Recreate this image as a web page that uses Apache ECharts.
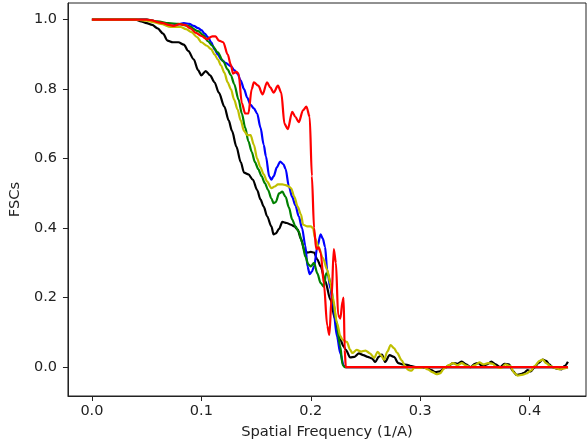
<!DOCTYPE html>
<html>
<head>
<meta charset="utf-8">
<script src="https://cdn.jsdelivr.net/npm/echarts@6/dist/echarts.min.js"></script>
<style>
  html, body { margin: 0; padding: 0; background: #fff; }
  #main { width: 587px; height: 446px; }
</style>
</head>
<body>
<div id="main"></div>
<script>
// tick positions
var xTicks = [0, 0.1, 0.2, 0.3, 0.4];
var yTicks = [0, 0.2, 0.4, 0.6, 0.8, 1.0];

// FSC curves, [spatial frequency, fsc]
var blackFsc = [[0,1],[0.04,1],[0.045,0.995],[0.05,0.99],[0.055,0.985],[0.06,0.975],[0.065,0.96],[0.069,0.94],[0.074,0.935],[0.079,0.935],[0.084,0.928],[0.088,0.91],[0.093,0.886],[0.097,0.855],[0.1,0.84],[0.104,0.852],[0.108,0.84],[0.112,0.82],[0.116,0.79],[0.121,0.75],[0.125,0.71],[0.128,0.68],[0.132,0.635],[0.136,0.59],[0.139,0.56],[0.143,0.555],[0.147,0.54],[0.151,0.51],[0.154,0.483],[0.157,0.462],[0.16,0.435],[0.164,0.405],[0.166,0.382],[0.168,0.385],[0.171,0.398],[0.174,0.418],[0.178,0.415],[0.182,0.41],[0.185,0.405],[0.188,0.396],[0.191,0.37],[0.194,0.338],[0.197,0.33],[0.2,0.332],[0.203,0.33],[0.206,0.31],[0.209,0.29],[0.213,0.25],[0.218,0.194],[0.222,0.14],[0.227,0.079],[0.23,0.06],[0.232,0.05],[0.236,0.028],[0.24,0.03],[0.244,0.04],[0.248,0.035],[0.252,0.03],[0.256,0.025],[0.259,0.015],[0.262,0.03],[0.265,0.036],[0.268,0.015],[0.272,0.035],[0.276,0.03],[0.28,0.012],[0.284,0.008],[0.288,0.007],[0.292,0.003],[0.297,0],[0.302,0],[0.306,-0.002],[0.31,-0.008],[0.314,-0.014],[0.318,-0.012],[0.322,-0.003],[0.326,0.005],[0.33,0.012],[0.334,0.01],[0.338,0.016],[0.342,0.008],[0.346,0],[0.35,0.01],[0.353,0.012],[0.357,0.003],[0.361,0.008],[0.365,0.016],[0.369,0.008],[0.373,0],[0.377,0.01],[0.381,0.008],[0.385,-0.012],[0.388,-0.022],[0.392,-0.02],[0.395,-0.016],[0.398,-0.008],[0.401,-0.012],[0.404,-0.002],[0.408,0.012],[0.412,0.022],[0.415,0.018],[0.418,0.008],[0.421,0],[0.425,-0.004],[0.429,-0.006],[0.432,0.004],[0.435,0.016]];

var blueFsc = [[0,1],[0.05,1],[0.055,0.997],[0.06,0.993],[0.065,0.988],[0.072,0.982],[0.078,0.986],[0.084,0.99],[0.089,0.988],[0.093,0.982],[0.097,0.976],[0.1,0.97],[0.103,0.96],[0.106,0.95],[0.109,0.935],[0.112,0.915],[0.115,0.9],[0.118,0.886],[0.122,0.876],[0.127,0.866],[0.13,0.855],[0.133,0.845],[0.136,0.825],[0.139,0.8],[0.142,0.775],[0.145,0.755],[0.148,0.745],[0.151,0.73],[0.154,0.69],[0.157,0.64],[0.159,0.607],[0.162,0.549],[0.164,0.54],[0.166,0.549],[0.169,0.575],[0.172,0.592],[0.175,0.584],[0.177,0.57],[0.18,0.52],[0.183,0.49],[0.186,0.465],[0.189,0.434],[0.192,0.4],[0.195,0.35],[0.197,0.29],[0.199,0.268],[0.201,0.275],[0.203,0.29],[0.206,0.347],[0.209,0.382],[0.211,0.37],[0.213,0.347],[0.215,0.28],[0.218,0.225],[0.22,0.185],[0.224,0.088],[0.227,0.04],[0.23,0.005],[0.232,0],[0.435,0]];

var greenFsc = [[0,1],[0.05,1],[0.06,0.995],[0.07,0.99],[0.079,0.988],[0.088,0.982],[0.097,0.967],[0.102,0.955],[0.106,0.938],[0.11,0.925],[0.115,0.906],[0.12,0.88],[0.124,0.857],[0.127,0.84],[0.13,0.815],[0.134,0.77],[0.137,0.73],[0.14,0.69],[0.143,0.65],[0.146,0.62],[0.149,0.59],[0.152,0.57],[0.155,0.55],[0.158,0.53],[0.161,0.51],[0.164,0.485],[0.166,0.472],[0.168,0.475],[0.171,0.5],[0.174,0.505],[0.177,0.49],[0.18,0.46],[0.183,0.425],[0.186,0.405],[0.189,0.39],[0.192,0.36],[0.195,0.318],[0.198,0.295],[0.2,0.29],[0.203,0.3],[0.206,0.27],[0.209,0.242],[0.212,0.232],[0.214,0.27],[0.216,0.265],[0.218,0.242],[0.221,0.18],[0.223,0.137],[0.227,0.059],[0.229,0.007],[0.231,0],[0.435,0]];

var yellowFsc = [[0,1],[0.04,1],[0.05,0.997],[0.056,0.993],[0.063,0.988],[0.072,0.979],[0.081,0.979],[0.086,0.973],[0.091,0.964],[0.096,0.95],[0.1,0.935],[0.105,0.925],[0.109,0.915],[0.112,0.9],[0.115,0.886],[0.118,0.868],[0.121,0.848],[0.124,0.82],[0.127,0.8],[0.13,0.77],[0.133,0.742],[0.136,0.71],[0.139,0.68],[0.142,0.668],[0.145,0.668],[0.148,0.64],[0.151,0.6],[0.154,0.575],[0.157,0.555],[0.16,0.535],[0.164,0.515],[0.167,0.52],[0.17,0.526],[0.174,0.526],[0.177,0.524],[0.18,0.52],[0.182,0.515],[0.185,0.49],[0.188,0.462],[0.191,0.44],[0.193,0.41],[0.197,0.405],[0.2,0.405],[0.202,0.4],[0.204,0.37],[0.207,0.347],[0.211,0.315],[0.215,0.28],[0.218,0.24],[0.22,0.203],[0.224,0.127],[0.227,0.09],[0.229,0.079],[0.233,0.073],[0.236,0.05],[0.238,0.041],[0.242,0.05],[0.246,0.045],[0.25,0.048],[0.254,0.04],[0.258,0.027],[0.261,0.044],[0.264,0.035],[0.267,0.021],[0.27,0.045],[0.273,0.064],[0.276,0.055],[0.279,0.041],[0.283,0.02],[0.286,0.005],[0.289,-0.008],[0.292,-0.01],[0.295,0],[0.299,-0.002],[0.303,0],[0.307,-0.006],[0.311,-0.014],[0.315,-0.02],[0.318,-0.018],[0.322,-0.003],[0.326,0.006],[0.33,0.012],[0.334,0.006],[0.338,0.012],[0.342,0.005],[0.346,0],[0.35,0.006],[0.354,0.014],[0.358,0.008],[0.362,0.012],[0.366,0.01],[0.37,0],[0.374,-0.002],[0.378,0.008],[0.382,0.004],[0.386,-0.016],[0.389,-0.024],[0.393,-0.022],[0.397,-0.018],[0.401,-0.01],[0.405,0.005],[0.409,0.018],[0.412,0.022],[0.415,0.012],[0.419,0.003],[0.423,-0.002],[0.427,-0.006],[0.431,-0.004],[0.435,0]];

var redFsc = [[0,1],[0.05,1],[0.055,0.998],[0.06,0.993],[0.065,0.99],[0.07,0.985],[0.075,0.982],[0.08,0.987],[0.085,0.985],[0.09,0.975],[0.095,0.962],[0.1,0.953],[0.105,0.944],[0.11,0.952],[0.113,0.952],[0.116,0.94],[0.12,0.935],[0.124,0.9],[0.127,0.87],[0.129,0.845],[0.132,0.85],[0.134,0.845],[0.137,0.76],[0.14,0.73],[0.143,0.73],[0.146,0.8],[0.148,0.82],[0.152,0.81],[0.156,0.785],[0.16,0.82],[0.163,0.805],[0.166,0.79],[0.17,0.81],[0.173,0.79],[0.176,0.7],[0.179,0.685],[0.183,0.735],[0.186,0.72],[0.189,0.705],[0.193,0.74],[0.196,0.75],[0.199,0.72],[0.201,0.55],[0.203,0.4],[0.205,0.34],[0.207,0.345],[0.209,0.33],[0.212,0.24],[0.215,0.12],[0.217,0.093],[0.219,0.2],[0.221,0.34],[0.223,0.3],[0.225,0.15],[0.227,0.14],[0.229,0.19],[0.23,0.2],[0.231,0.05],[0.232,0],[0.435,0]];

var chart = echarts.init(document.getElementById('main'));

function curve(data, color) {
  return {
    type: 'line',
    data: data,
    showSymbol: false,
    smooth: 0.3,
    smoothMonotone: 'x',
    lineStyle: { color: color, width: 2.2 },
    silent: true
  };
}

var fontFamily = 'DejaVu Sans';
var textColor = '#222';

var option = {
  animation: false,
  backgroundColor: '#fff',
  grid: {
    left: 67, top: 3, right: 1, bottom: 50,
    show: true, borderColor: '#222', borderWidth: 1
  },
  xAxis: {
    type: 'value',
    min: -0.0219, max: 0.4515,
    name: 'Spatial Frequency (1/A)',
    nameLocation: 'middle',
    nameGap: 29,
    nameTextStyle: { fontFamily: fontFamily, fontSize: 14.7, color: textColor },
    axisLine: { show: true, onZero: false, lineStyle: { color: '#222' } },
    axisTick: { show: true, length: 5, customValues: xTicks, lineStyle: { color: '#222' } },
    axisLabel: {
      customValues: xTicks, margin: 8,
      fontFamily: fontFamily, fontSize: 14.5, color: textColor,
      formatter: function (v) { return v.toFixed(1); }
    },
    splitLine: { show: false }
  },
  yAxis: {
    type: 'value',
    min: -0.0828, max: 1.048,
    name: 'FSCs',
    nameLocation: 'middle',
    nameGap: 40,
    nameTextStyle: { fontFamily: fontFamily, fontSize: 14.7, color: textColor },
    axisLine: { show: true, onZero: false, lineStyle: { color: '#222' } },
    axisTick: { show: true, length: 5, customValues: yTicks, lineStyle: { color: '#222' } },
    axisLabel: {
      customValues: yTicks, margin: 11,
      fontFamily: fontFamily, fontSize: 14.5, color: textColor,
      formatter: function (v) { return v.toFixed(1); }
    },
    splitLine: { show: false }
  },
  series: [
    curve(blackFsc, '#000000'),
    curve(blueFsc, '#0000ff'),
    curve(greenFsc, '#008000'),
    curve(yellowFsc, '#bfbf00'),
    curve(redFsc, '#ff0000')
  ]
};

chart.setOption(option);
</script>
</body>
</html>
